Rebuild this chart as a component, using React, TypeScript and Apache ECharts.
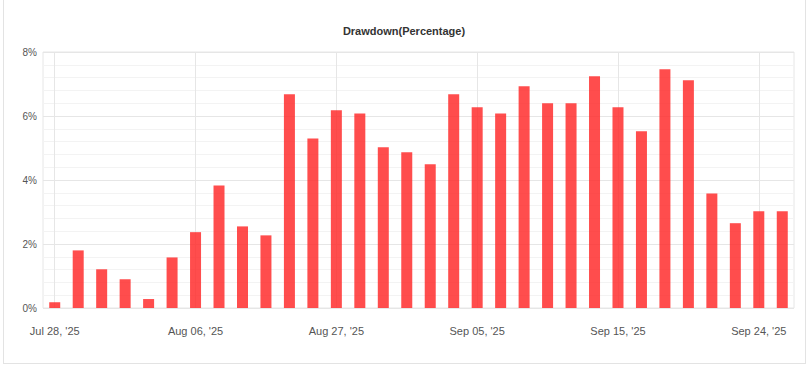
import React, { useEffect, useRef } from "react";
import * as echarts from "echarts";

const title = "Drawdown(Percentage)";

const dates = [
  "Jul 28, '25", "Jul 29, '25", "Jul 30, '25", "Jul 31, '25", "Aug 01, '25", "Aug 04, '25",
  "Aug 06, '25", "Aug 07, '25", "Aug 08, '25", "Aug 11, '25", "Aug 13, '25", "Aug 20, '25",
  "Aug 27, '25", "Aug 28, '25", "Aug 29, '25", "Sep 01, '25", "Sep 02, '25", "Sep 03, '25",
  "Sep 05, '25", "Sep 08, '25", "Sep 09, '25", "Sep 10, '25", "Sep 11, '25", "Sep 12, '25",
  "Sep 15, '25", "Sep 16, '25", "Sep 17, '25", "Sep 18, '25", "Sep 19, '25", "Sep 22, '25",
  "Sep 24, '25", "Sep 25, '25",
];

const drawdown = [
  0.18, 1.8, 1.21, 0.9, 0.28, 1.58,
  2.37, 3.83, 2.55, 2.27, 6.68, 5.3,
  6.18, 6.08, 5.02, 4.87, 4.49, 6.68,
  6.27, 6.08, 6.93, 6.4, 6.4, 7.24,
  6.27, 5.52, 7.46, 7.12, 3.58, 2.65,
  3.02, 3.02,
];

const yTicks = [0, 2, 4, 6, 8];

export default function App() {
  const ref = useRef<HTMLDivElement>(null);

  useEffect(() => {
    if (!ref.current) return;
    const chart = echarts.init(ref.current, undefined, { renderer: "svg" });
    chart.setOption({
      animation: false,
      title: {
        text: title,
        left: "center",
        top: 20,
        textStyle: {
          fontFamily: "Liberation Sans, Arial, sans-serif",
          fontSize: 11,
          fontWeight: "bold",
          color: "#333",
        },
      },
      grid: {
        left: 43,
        right: 14,
        top: 52,
        bottom: 59,
        show: true,
        borderColor: "#e6e6e6",
        borderWidth: 1,
        containLabel: false,
      },
      xAxis: {
        type: "category",
        data: dates,
        boundaryGap: true,
        axisLine: { show: false },
        axisTick: { show: false },
        axisLabel: {
          interval: 5,
          margin: 17,
          fontFamily: "Liberation Sans, Arial, sans-serif",
          fontSize: 11,
          color: "#555",
        },
        splitLine: {
          show: true,
          interval: 5,
          alignWithLabel: true,
          lineStyle: { color: "#e6e6e6", width: 1 },
        },
      },
      yAxis: {
        type: "value",
        min: yTicks[0],
        max: yTicks[yTicks.length - 1],
        interval: 2,
        axisLine: { show: false },
        axisTick: { show: false },
        axisLabel: {
          formatter: (v: number) => `${v}%`,
          margin: 6,
          fontFamily: "Liberation Sans, Arial, sans-serif",
          fontSize: 10,
          color: "#555",
        },
        splitLine: { show: true, lineStyle: { color: "#e6e6e6", width: 1 } },
        minorTick: { show: false, splitNumber: 5 },
        minorSplitLine: { show: true, lineStyle: { color: "#f3f3f3", width: 1 } },
      },
      series: [
        {
          type: "bar",
          data: drawdown,
          barWidth: 11,
          itemStyle: { color: "rgba(255, 38, 38, 0.82)" },
        },
      ],
    });
    return () => chart.dispose();
  }, []);

  return (
    <div style={{ position: "absolute", left: 0, top: 0, width: 808, height: 367, overflow: "hidden", background: "#fff" }}>
      <div
        style={{
          position: "absolute",
          left: 3,
          top: -10,
          width: 803,
          height: 374,
          border: "1px solid #e3e3e3",
          boxSizing: "border-box",
        }}
      />
      <div ref={ref} style={{ position: "absolute", left: 0, top: 0, width: 808, height: 367 }} />
    </div>
  );
}
